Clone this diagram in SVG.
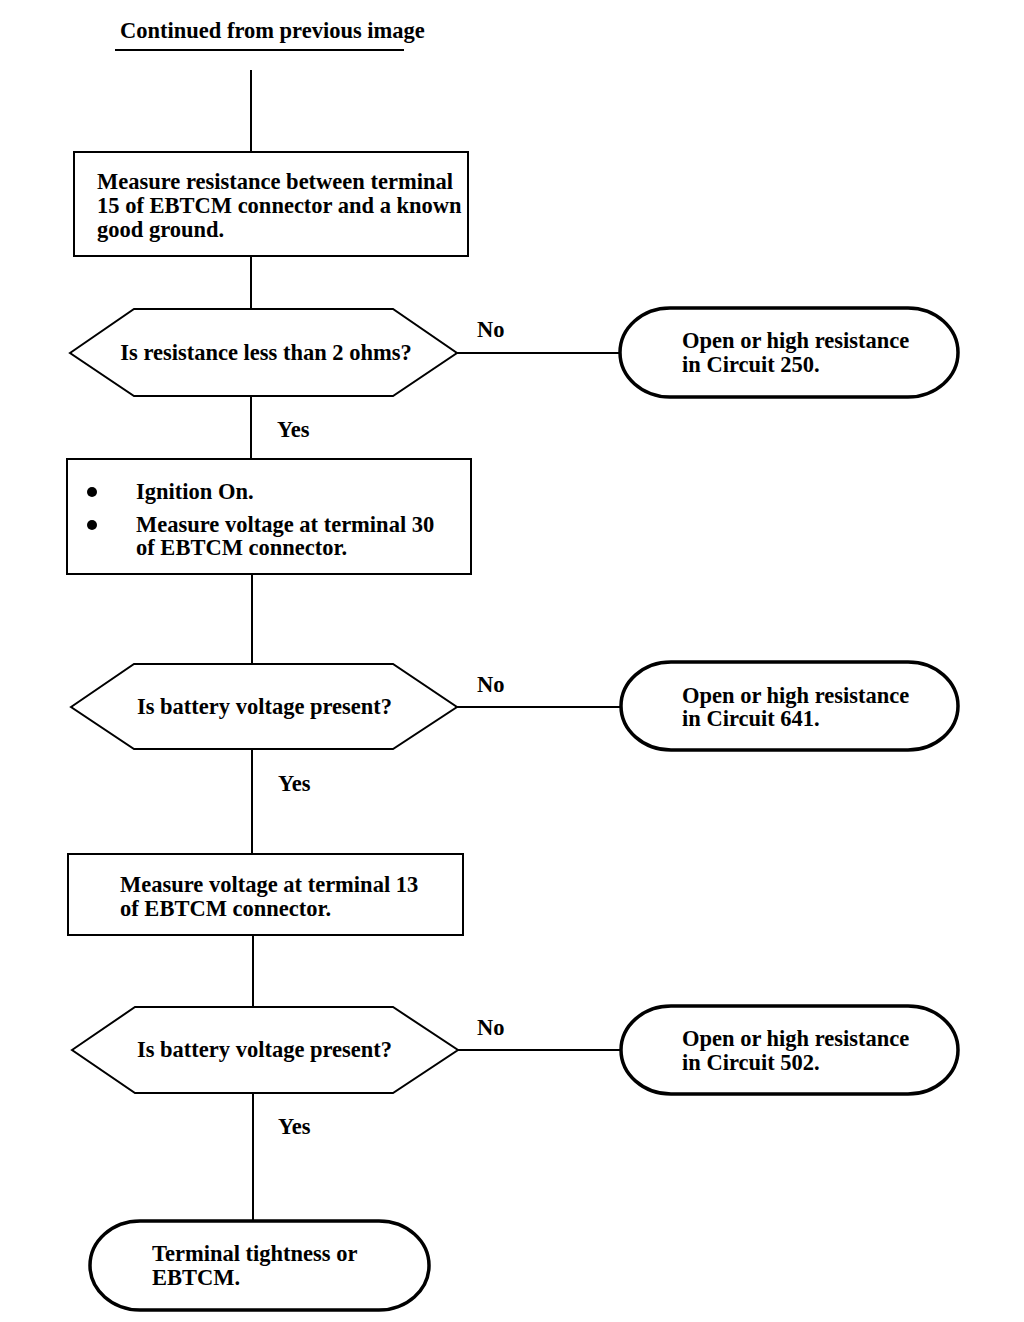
<svg xmlns="http://www.w3.org/2000/svg" width="1024" height="1322" viewBox="0 0 1024 1322">
<style>
text { font-family: "Liberation Serif", "Times New Roman", serif; font-size: 22.5px; font-weight: bold; fill: #000; }
.box { fill: #fff; stroke: #000; stroke-width: 2; }
.term { fill: #fff; stroke: #000; stroke-width: 3.5; }
.hex { fill: #fff; stroke: #000; stroke-width: 2; }
.line { stroke: #000; stroke-width: 2; fill: none; }
</style>
<rect width="1024" height="1322" fill="#fff"/>
<g id="title">
<text x="120" y="38">Continued from previous image</text>
<line x1="115" y1="50" x2="404" y2="50" class="line"/>
</g>
<g id="connectors">
<line class="line" x1="251" y1="70" x2="251" y2="152"/>
<line class="line" x1="251" y1="256" x2="251" y2="309"/>
<line class="line" x1="251" y1="396" x2="251" y2="459"/>
<line class="line" x1="457" y1="353" x2="620" y2="353"/>
<line class="line" x1="252" y1="574" x2="252" y2="664"/>
<line class="line" x1="252" y1="749" x2="252" y2="854"/>
<line class="line" x1="457" y1="707" x2="621" y2="707"/>
<line class="line" x1="253" y1="935" x2="253" y2="1007"/>
<line class="line" x1="253" y1="1093" x2="253" y2="1220"/>
<line class="line" x1="458" y1="1050" x2="621" y2="1050"/>
<text x="477" y="337">No</text>
<text x="277" y="437">Yes</text>
<text x="477" y="692">No</text>
<text x="278" y="791">Yes</text>
<text x="477" y="1035">No</text>
<text x="278" y="1134">Yes</text>
</g>
<g id="box1">
<rect class="box" x="74" y="152" width="394" height="104"/>
<text x="97" y="189">Measure resistance between terminal</text>
<text x="97" y="213">15 of EBTCM connector and a known</text>
<text x="97" y="237">good ground.</text>
</g>
<g id="dec1">
<polygon class="hex" points="70,353 134,309 393,309 457,353 393,396 134,396"/>
<text x="266" y="360" text-anchor="middle">Is resistance less than 2 ohms?</text>
</g>
<g id="term1">
<rect class="term" x="620" y="308" width="338" height="89" rx="50" ry="44.5"/>
<text x="682" y="348">Open or high resistance</text>
<text x="682" y="372">in Circuit 250.</text>
</g>
<g id="box2">
<rect class="box" x="67" y="459" width="404" height="115"/>
<circle cx="92" cy="492" r="5"/>
<circle cx="92" cy="525" r="5"/>
<text x="136" y="499">Ignition On.</text>
<text x="136" y="532">Measure voltage at terminal 30</text>
<text x="136" y="555">of EBTCM connector.</text>
</g>
<g id="dec2">
<polygon class="hex" points="71,707 134,664 393,664 457,707 393,749 134,749"/>
<text x="264.5" y="714" text-anchor="middle">Is battery voltage present?</text>
</g>
<g id="term2">
<rect class="term" x="621" y="662" width="337" height="88" rx="50" ry="44"/>
<text x="682" y="703">Open or high resistance</text>
<text x="682" y="726">in Circuit 641.</text>
</g>
<g id="box3">
<rect class="box" x="68" y="854" width="395" height="81"/>
<text x="120" y="892">Measure voltage at terminal 13</text>
<text x="120" y="916">of EBTCM connector.</text>
</g>
<g id="dec3">
<polygon class="hex" points="72,1050 135,1007 393,1007 458,1050 393,1093 135,1093"/>
<text x="264.5" y="1057" text-anchor="middle">Is battery voltage present?</text>
</g>
<g id="term3">
<rect class="term" x="621" y="1006" width="337" height="88" rx="50" ry="44"/>
<text x="682" y="1046">Open or high resistance</text>
<text x="682" y="1070">in Circuit 502.</text>
</g>
<g id="term4">
<rect class="term" x="90" y="1221" width="339" height="89" rx="50" ry="44.5"/>
<text x="152" y="1261">Terminal tightness or</text>
<text x="152" y="1285">EBTCM.</text>
</g>
</svg>
